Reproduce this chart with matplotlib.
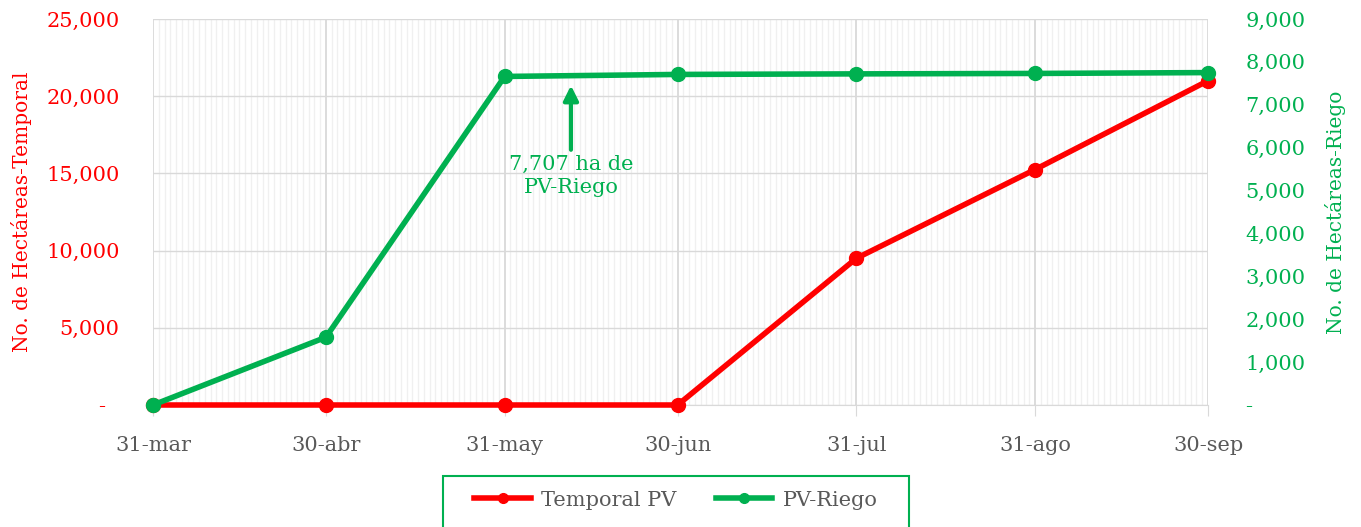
import pandas as pd
import matplotlib
matplotlib.use("Agg")
import matplotlib.pyplot as plt
import matplotlib.dates as mdates
from matplotlib.patches import Rectangle
from matplotlib.ticker import FuncFormatter, MultipleLocator

# data
fechas = ["2023-03-31", "2023-04-30", "2023-05-31", "2023-06-30",
          "2023-07-31", "2023-08-31", "2023-09-30"]
etiquetas_x = ["31-mar", "30-abr", "31-may", "30-jun", "31-jul", "31-ago", "30-sep"]
temporal_pv = [0, 0, 0, 0, 9500, 15250, 21000]
pv_riego = [0, 1580, 7660, 7707, 7720, 7730, 7750]

ROJO = "#FF0000"
VERDE = "#00B050"
GRIS = "#595959"

plt.rcParams["font.family"] = ["DejaVu Serif"]

x = pd.to_datetime(fechas)

fig = plt.figure(figsize=(13.61, 5.27), dpi=100)
ax = fig.add_axes([0.1124, 0.2315, 0.7752, 0.7325])
ax2 = ax.twinx()

# grid
ax.set_xlim(x[0], x[-1])
ax.set_xticks(x)
ax.set_xticklabels(etiquetas_x)
ax.xaxis.set_minor_locator(mdates.DayLocator())
ax.grid(axis="x", which="major", color="#D9D9D9", lw=1.3)
ax.grid(axis="x", which="minor", color="#F0F0F0", lw=1.0)
ax.grid(axis="y", which="major", color="#D9D9D9", lw=1.0)
ax.set_axisbelow(True)

ax.set_ylim(0, 25000)
ax.yaxis.set_major_locator(MultipleLocator(5000))
ax2.set_ylim(0, 9000)
ax2.yaxis.set_major_locator(MultipleLocator(1000))

ax.yaxis.set_major_formatter(
    FuncFormatter(lambda v, p: "-\u2007" if v == 0 else f"{v:,.0f}"))
ax2.yaxis.set_major_formatter(
    FuncFormatter(lambda v, p: "-" if v == 0 else f"{v:,.0f}"))

for s in ax.spines.values():
    s.set_visible(False)
for s in ax2.spines.values():
    s.set_visible(False)
ax.spines["bottom"].set_visible(True)
ax.spines["bottom"].set_color("#D9D9D9")

ax.tick_params(axis="y", length=0, labelcolor=ROJO, labelsize=15, pad=24)
ax2.tick_params(axis="y", length=0, labelcolor=VERDE, labelsize=15, pad=27)
ax.tick_params(axis="x", which="major", length=8, color="#D9D9D9",
               labelcolor=GRIS, labelsize=15, pad=14)
ax.tick_params(axis="x", which="minor", length=0)

ax.set_ylabel("No. de Hectáreas-Temporal", color=ROJO, fontsize=14.5, labelpad=10)
ax2.set_ylabel("No. de Hectáreas-Riego", color=VERDE, fontsize=14.5, labelpad=14)

l1, = ax.plot(x, temporal_pv, color=ROJO, lw=4, marker="o", ms=10,
              label="Temporal PV", zorder=3, clip_on=False)
l2, = ax2.plot(x, pv_riego, color=VERDE, lw=4, marker="o", ms=10,
               label="PV-Riego", zorder=3, clip_on=False)

# annotation
xa = pd.Timestamp("2023-06-11 12:00")
ax2.annotate("", xy=(xa, 7450), xytext=(xa, 5950),
             arrowprops=dict(arrowstyle="-|>", color=VERDE, lw=3,
                             mutation_scale=22, shrinkA=0, shrinkB=0))
ax2.text(xa, 5830, "7,707 ha de\nPV-Riego", color=VERDE, fontsize=15,
         ha="center", va="top", linespacing=1.3)

# legend
leg = fig.legend(handles=[l1, l2], loc="center",
                 bbox_to_anchor=(676 / 1361, 1 - 500 / 527), ncol=2,
                 frameon=False, fontsize=15, handlelength=2.7,
                 handletextpad=0.5, columnspacing=1.9, markerscale=0.7)
for t in leg.get_texts():
    t.set_color(GRIS)
fig.patches.append(Rectangle((443 / 1361, -0.02), 466 / 1361, 1 - 476 / 527 + 0.02,
                             transform=fig.transFigure, fill=False,
                             edgecolor=VERDE, lw=1.5))

fig.savefig("out.png", dpi=100)
